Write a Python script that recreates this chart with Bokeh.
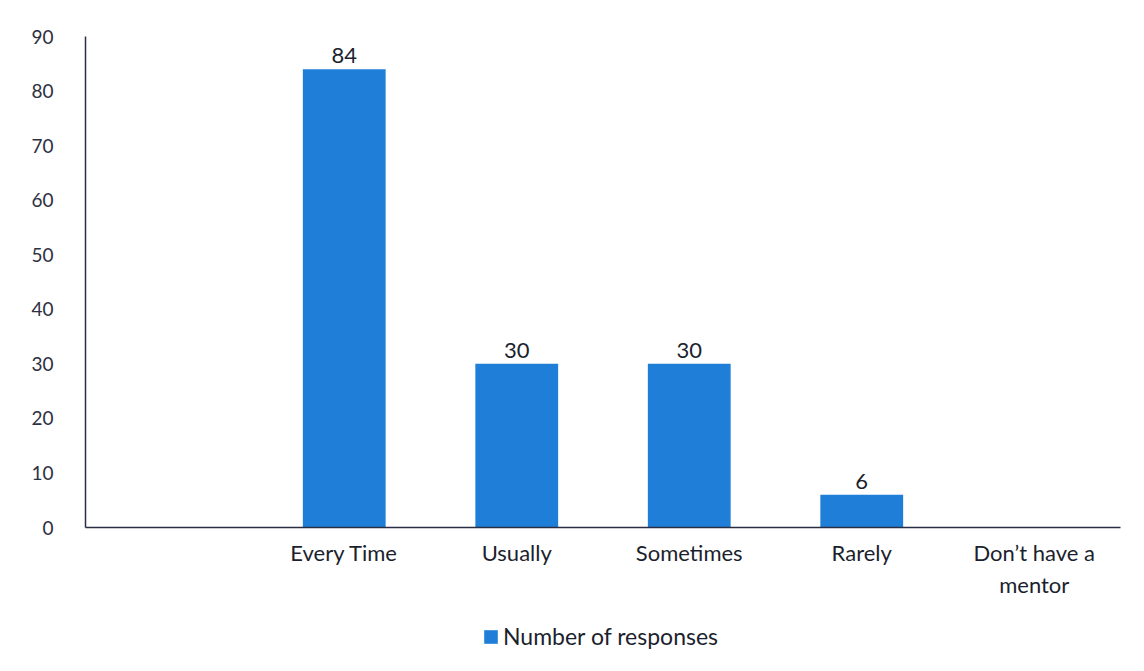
from bokeh.plotting import figure
from bokeh.layouts import column
from bokeh.models import ColumnDataSource, FactorRange, Range1d, FixedTicker, Legend, LegendItem
from bokeh.core.properties import value
from bokeh.embed import file_html
from bokeh.resources import INLINE

# Data
categories = ["Every Time", "Usually", "Sometimes", "Rarely", "Don\u2019t have a\nmentor"]
responses = [84, 30, 30, 6, 0]
y_ticks = [0, 10, 20, 30, 40, 50, 60, 70, 80, 90]
series_name = "Number of responses"

FONT = "Lato"
BAR = "#1f7fd8"
TXT = "#1c1f2e"

factors = [" "] + categories
src = ColumnDataSource(data=dict(cat=categories, val=responses))
lab_cats = [c for c, v in zip(categories, responses) if v > 0]
lab_vals = [v for v in responses if v > 0]
lab_src = ColumnDataSource(data=dict(cat=lab_cats, val=lab_vals, txt=[str(v) for v in lab_vals]))

p = figure(width=1128, height=612, x_range=FactorRange(*factors, range_padding=0),
           y_range=Range1d(0, 90), output_backend="svg", toolbar_location=None,
           min_border_left=85, min_border_right=8, min_border_top=36, min_border_bottom=85)
p.outline_line_color = None
p.xgrid.grid_line_color = None
p.ygrid.grid_line_color = None

r = p.vbar(x="cat", top="val", width=0.48, source=src, fill_color=BAR, line_color=None)
p.text(x="cat", y="val", text="txt", source=lab_src, text_align="center", text_baseline="bottom",
       y_offset=-6, text_font=value(FONT), text_font_size="22px", text_color=TXT)

p.yaxis.ticker = FixedTicker(ticks=y_ticks)
for ax in (p.xaxis[0], p.yaxis[0]):
    ax.axis_line_color = "#2a2e45"
    ax.axis_line_width = 1.5
    ax.major_tick_line_color = None
    ax.minor_tick_line_color = None
    ax.major_label_text_font = FONT
    ax.major_label_text_color = TXT
p.yaxis.major_label_text_font_size = "19px"
p.yaxis.major_label_text_color = "#2e3142"
p.yaxis.major_label_standoff = 26
p.xaxis.major_label_text_font_size = "22px"
p.xaxis.major_label_standoff = 5

# Legend strip below the chart
lf = figure(width=1128, height=48, x_range=Range1d(0, 1), y_range=Range1d(0, 1),
            output_backend="svg", toolbar_location=None,
            min_border_left=0, min_border_right=0, min_border_top=0, min_border_bottom=0)
lf.axis.visible = False
lf.grid.visible = False
lf.outline_line_color = None
lr = lf.vbar(x=[5], top=[5], bottom=[4], width=0.5, fill_color=BAR, line_color=None)
legend = Legend(items=[LegendItem(label=series_name, renderers=[lr])], orientation="horizontal",
                location=(397, 10), label_text_font=FONT, label_text_font_size="23px",
                label_text_color=TXT, glyph_width=17, glyph_height=17, border_line_color=None,
                background_fill_alpha=0, margin=0, padding=4, label_standoff=4)
lf.add_layout(legend, "center")

layout = column(p, lf, spacing=0)
open("out.html", "w").write(file_html(layout, INLINE))
